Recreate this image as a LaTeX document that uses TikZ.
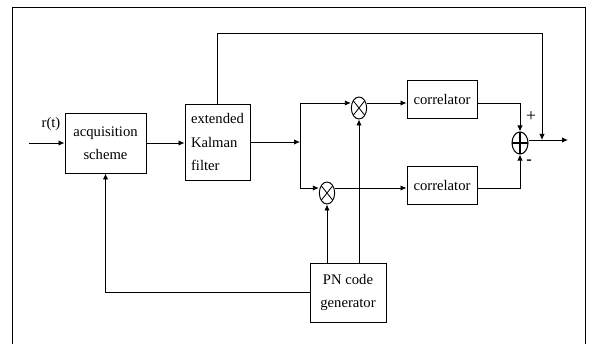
\documentclass[tikz,border=0pt]{standalone}
\usepackage{fontspec}
\setmainfont{Liberation Serif}
\usetikzlibrary{arrows.meta,shapes.geometric}
\tikzset{
  flow/.style={-{Latex[length=1.8mm,width=1.6mm]},draw=black,line width=.75pt},
  wire/.style={draw=black,line width=.75pt},
  block/.style={draw=black,line width=.8pt,fill=white,align=center,inner sep=2pt,
    font=\fontsize{12.5}{20}\selectfont},
  mult/.style={ellipse,draw=black,line width=.8pt,minimum width=.46cm,
    minimum height=.66cm,inner sep=0pt,
    path picture={\draw[line width=.7pt]
      ([xshift=1.5pt,yshift=-3pt]path picture bounding box.north west)
        -- ([xshift=-1.5pt,yshift=3pt]path picture bounding box.south east)
      ([xshift=-1.5pt,yshift=-3pt]path picture bounding box.north east)
        -- ([xshift=1.5pt,yshift=3pt]path picture bounding box.south west);}},
  adder/.style={ellipse,draw=black,line width=.9pt,minimum width=.48cm,
    minimum height=.66cm,inner sep=0pt,
    path picture={\draw[line width=1pt]
      (path picture bounding box.north) -- (path picture bounding box.south)
      (path picture bounding box.west) -- (path picture bounding box.east);}}
}

\begin{document}
\begin{tikzpicture}[x=0.03cm,y=-0.03cm]
  \useasboundingbox (0,0) rectangle (592,344);
  \draw[line width=.7pt] (12,344) -- (12,7) -- (585,7) -- (585,344);

  % Blocks.
  \node[block,minimum width=2.43cm,minimum height=1.8cm] (acq) at (105.5,143)
    {acquisition\\scheme};
  \node[block,minimum width=1.95cm,minimum height=2.28cm,align=left] (ekf) at (217.5,142)
    {extended\\Kalman\\filter};
  \node[block,minimum width=2.1cm,minimum height=1.14cm] (cor1) at (442,99) {correlator};
  \node[block,minimum width=2.1cm,minimum height=1.14cm] (cor2) at (442,185) {correlator};
  \node[block,minimum width=2.28cm,minimum height=1.77cm] (pn) at (348,292.5)
    {PN code\\generator};
  \node[mult] (m1) at (359,108) {};
  \node[mult] (m2) at (327,193) {};
  \node[adder] (sum) at (520,143) {};

  % Labels.
  \node[font=\fontsize{12.5}{14}\selectfont] (rt) at (51,124) {r(t)};
  \node[font=\fontsize{15}{15}\selectfont] (plus) at (531,117) {+};
  \node[font=\fontsize{14}{14}\selectfont\bfseries] (minus) at (529,162) {-};

  % Free ends and branch points.
  \coordinate (in) at (29,143);
  \coordinate (split) at (300,142);
  \coordinate (splitup) at (300,103);
  \coordinate (splitdn) at (300,188);
  \coordinate (out) at (568,140);
  \coordinate (tap) at (542,140);
  \coordinate (fbtop) at (542,33);

  % Main signal path.
  \draw[flow] (in) -- (acq.west |- in);
  \draw[flow] (acq.east) -- (acq.east -| ekf.west);
  \draw[flow] (ekf.east |- split) -- (split);
  \draw[wire] (splitup) -- (splitdn);
  \draw[flow] (splitup) -- (splitup -| m1.west);
  \draw[flow] (splitdn) -- (splitdn -| m2.west);
  \draw[flow] (m1.east |- splitup) -- (splitup -| cor1.west);
  \draw[flow] (m2.east |- splitdn) -- (splitdn -| cor2.west);
  \draw[flow] (cor1.east |- splitup) -| (sum.north);
  \draw[flow] (cor2.east |- splitdn) -| (sum.south);
  \draw[flow] (sum.east |- out) -- (out);

  % Feedback and code paths.
  \draw[flow] (ekf.north) |- (fbtop) -- (tap);
  \draw[flow] (m2.south |- pn.north) -- (m2.south);
  \draw[flow] (m1.south |- pn.north) -- (m1.south);
  \draw[flow] (pn.west) -| (acq.south);
\end{tikzpicture}
\end{document}
